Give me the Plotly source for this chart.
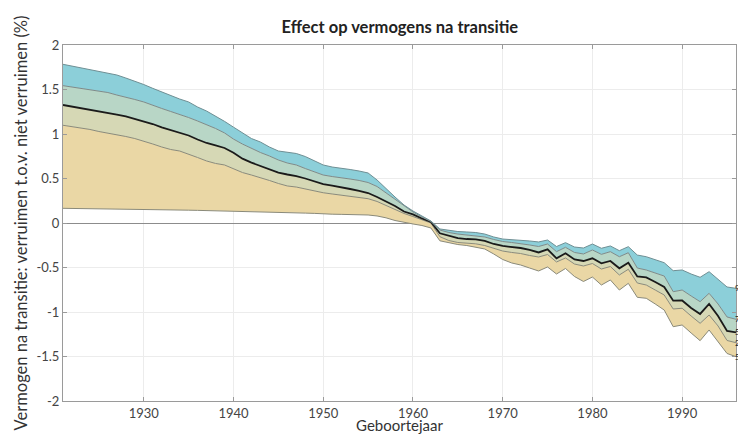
import plotly.graph_objects as go

years = list(range(1921, 1997))

p5 = [0.165, 0.164, 0.163, 0.161, 0.160, 0.159, 0.158, 0.157, 0.156, 0.154,
      0.152, 0.150, 0.148, 0.146, 0.144, 0.142, 0.140, 0.138, 0.137, 0.135,
      0.133, 0.130, 0.127, 0.124, 0.120, 0.117, 0.114, 0.111, 0.108, 0.101,
      0.099, 0.097, 0.095, 0.092, 0.090, 0.079, 0.058, 0.028, 0.006, -0.011,
      -0.028, -0.056, -0.200, -0.225, -0.242, -0.253, -0.270, -0.292, -0.348, -0.410,
      -0.449, -0.472, -0.506, -0.539, -0.494, -0.573, -0.511, -0.601, -0.657, -0.607,
      -0.697, -0.640, -0.753, -0.678, -0.835, -0.846, -0.910, -0.978, -1.165, -1.146,
      -1.236, -1.322, -1.202, -1.337, -1.466, -1.502]

p25 = [1.098, 1.084, 1.067, 1.051, 1.028, 1.011, 0.994, 0.972, 0.949, 0.921,
       0.888, 0.854, 0.826, 0.809, 0.775, 0.736, 0.697, 0.669, 0.652, 0.612,
       0.567, 0.539, 0.511, 0.478, 0.444, 0.416, 0.404, 0.382, 0.360, 0.340,
       0.326, 0.311, 0.298, 0.287, 0.273, 0.242, 0.197, 0.152, 0.107, 0.073,
       0.034, 0.000, -0.154, -0.197, -0.219, -0.228, -0.234, -0.253, -0.287, -0.315,
       -0.331, -0.343, -0.365, -0.382, -0.354, -0.438, -0.393, -0.461, -0.483, -0.455,
       -0.517, -0.489, -0.584, -0.520, -0.674, -0.697, -0.753, -0.809, -0.966, -0.958,
       -1.045, -1.127, -1.034, -1.157, -1.320, -1.345]

p50 = [1.326, 1.309, 1.292, 1.275, 1.258, 1.242, 1.219, 1.197, 1.169, 1.146,
       1.112, 1.075, 1.045, 1.017, 0.983, 0.938, 0.899, 0.871, 0.843, 0.790,
       0.723, 0.678, 0.640, 0.601, 0.567, 0.545, 0.528, 0.500, 0.466, 0.438,
       0.421, 0.404, 0.382, 0.360, 0.337, 0.292, 0.242, 0.191, 0.129, 0.096,
       0.051, 0.011, -0.116, -0.146, -0.169, -0.180, -0.185, -0.202, -0.236, -0.258,
       -0.270, -0.281, -0.303, -0.331, -0.296, -0.397, -0.340, -0.410, -0.427, -0.397,
       -0.453, -0.427, -0.509, -0.446, -0.601, -0.612, -0.663, -0.719, -0.873, -0.871,
       -0.955, -1.022, -0.910, -1.045, -1.213, -1.228]

p75 = [1.543, 1.528, 1.511, 1.500, 1.483, 1.466, 1.438, 1.416, 1.388, 1.360,
       1.320, 1.287, 1.253, 1.221, 1.185, 1.146, 1.107, 1.062, 1.012, 0.943,
       0.887, 0.837, 0.792, 0.753, 0.708, 0.674, 0.652, 0.612, 0.573, 0.539,
       0.522, 0.511, 0.494, 0.478, 0.455, 0.410, 0.337, 0.264, 0.191, 0.124,
       0.067, 0.017, -0.079, -0.107, -0.124, -0.135, -0.143, -0.157, -0.185, -0.208,
       -0.219, -0.230, -0.247, -0.264, -0.236, -0.322, -0.273, -0.331, -0.348, -0.303,
       -0.352, -0.322, -0.379, -0.334, -0.506, -0.528, -0.562, -0.596, -0.772, -0.753,
       -0.820, -0.884, -0.790, -0.910, -1.056, -1.082]

p95 = [1.783, 1.764, 1.742, 1.725, 1.702, 1.685, 1.663, 1.629, 1.596, 1.556,
       1.513, 1.472, 1.433, 1.393, 1.360, 1.303, 1.258, 1.202, 1.142, 1.077,
       1.011, 0.949, 0.910, 0.854, 0.809, 0.792, 0.781, 0.747, 0.702, 0.652,
       0.629, 0.618, 0.601, 0.584, 0.562, 0.483, 0.382, 0.292, 0.202, 0.135,
       0.079, 0.022, -0.067, -0.084, -0.096, -0.101, -0.107, -0.124, -0.157, -0.180,
       -0.185, -0.191, -0.202, -0.213, -0.191, -0.264, -0.221, -0.270, -0.281, -0.236,
       -0.284, -0.258, -0.311, -0.266, -0.360, -0.379, -0.410, -0.446, -0.536, -0.528,
       -0.573, -0.610, -0.547, -0.629, -0.719, -0.734]

series_labels = ["5%", "25", "50", "75", "95"]
x_tickvals = [1930, 1940, 1950, 1960, 1970, 1980, 1990]
y_tickvals = [-2, -1.5, -1, -0.5, 0, 0.5, 1, 1.5, 2]
y_ticktext = ["-2", "-1.5", "-1", "-0.5", "0", "0.5", "1", "1.5", "2"]

fills = [None, "#ead7a5", "#d6d8b5", "#b8d6c6", "#8ccfd9"]
line_cols = ["#8a8a7a", "#8a8a7a", "#1a1a1a", "#7f8a88", "#6f8f94"]
line_w = [1, 1, 1.8, 1, 1]

fig = go.Figure()
for i, vals in enumerate([p5, p25, p50, p75, p95]):
    fig.add_trace(go.Scatter(
        x=years, y=vals, mode="lines",
        line=dict(color=line_cols[i], width=line_w[i]),
        fill=None if i == 0 else "tonexty",
        fillcolor=fills[i],
        showlegend=False, hoverinfo="skip"))

font_main = "Lato, 'Open Sans', sans-serif"
for lab, vals in zip(series_labels, [p5, p25, p50, p75, p95]):
    fig.add_annotation(x=1, y=vals[-1], text=lab, xref="paper", yref="y",
                       xanchor="left", yanchor="middle", showarrow=False,
                       borderpad=0, borderwidth=0, xshift=-1,
                       font=dict(size=8, color="#222", family=font_main))

# The page body adds an 8px margin on every side; keep the figure inside the
# window so no scrollbar appears.
fig.update_layout(
    width=738, height=426,
    margin=dict(l=55, r=10, t=37, b=33),
    paper_bgcolor="white", plot_bgcolor="white",
    title=dict(text="<b>Effect op vermogens na transitie</b>", x=0.531, xanchor="center",
               y=0.955, yanchor="middle",
               font=dict(size=16.5, color="#222", family=font_main)),
    font=dict(family=font_main),
)
fig.update_xaxes(range=[1921, 1996], tickvals=x_tickvals, automargin=False,
                 showgrid=True, gridcolor="#ececec", gridwidth=1,
                 showline=True, linecolor="#9a9a9a", linewidth=1, mirror="ticks",
                 ticks="inside", ticklen=4, tickcolor="#9a9a9a",
                 tickfont=dict(size=13, color="#444"),
                 title=dict(text="Geboortejaar", standoff=3,
                            font=dict(size=15, color="#333")),
                 zeroline=False)
fig.update_yaxes(range=[-2, 2], tickvals=y_tickvals, ticktext=y_ticktext, automargin=False,
                 showgrid=True, gridcolor="#ececec", gridwidth=1,
                 showline=True, linecolor="#9a9a9a", linewidth=1, mirror="ticks",
                 ticks="inside", ticklen=4, tickcolor="#9a9a9a",
                 tickfont=dict(size=13, color="#444"),
                 title=dict(text="Vermogen na transitie: verruimen t.o.v. niet verruimen (%)",
                            standoff=4, font=dict(size=16.5, color="#333")),
                 zeroline=True, zerolinecolor="#8c8c8c", zerolinewidth=1)

fig.write_html("out.html")
